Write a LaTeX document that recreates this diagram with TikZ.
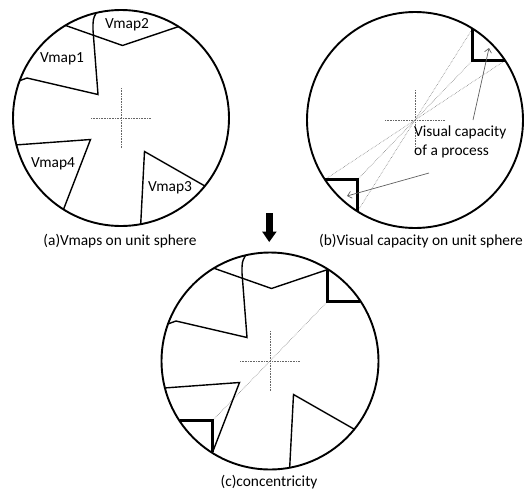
\documentclass[tikz,border=0pt]{standalone}
\usepackage{fontspec}
\setmainfont{Carlito}
\usetikzlibrary{arrows.meta,calc}
\begin{document}
\begin{tikzpicture}[x=1pt,y=-1pt,
  sphere/.style={line width=1.9pt},
  vmapline/.style={line width=1.4pt, line join=miter},
  capbox/.style={line width=3.2pt, line join=miter},
  guide/.style={densely dotted, gray, line width=0.6pt},
  cross/.style={densely dotted, gray!80!black, line width=0.6pt},
  pointer/.style={gray!75!black, line width=0.7pt, -{Straight Barb[length=4pt,width=7pt]}},
  lbl/.style={font=\fontsize{15.4}{19}\selectfont, text=black, inner sep=0pt},
]
\useasboundingbox (0,0) rectangle (524,491);

\newcommand\crosshair[1]{%
  \draw[cross] ($(#1)+(-30,0)$) -- ($(#1)+(30,0)$);
  \draw[cross] ($(#1)+(0,-30)$) -- ($(#1)+(0,30)$);}
\newcommand\drawVmaps[1]{%
  % Vmap2
  \draw[vmapline] ($(#1)+(-55.6,-92.6)$) -- ($(#1)+(1.5,-72.5)$) -- ($(#1)+(57.5,-91.4)$);
  % Vmap1
  \draw[vmapline] ($(#1)+(-24.8,-105.1)$) .. controls ($(#1)+(-28,-99)$) .. ($(#1)+(-28,-88)$)
      -- ($(#1)+(-23,-23.5)$) -- ($(#1)+(-94,-40)$) -- ($(#1)+(-101.4,-37.3)$);
  % Vmap4
  \draw[vmapline] ($(#1)+(-104.6,26.9)$) -- ($(#1)+(-30.5,21.5)$) -- ($(#1)+(-57.5,91.4)$);
  % Vmap3
  \draw[vmapline] ($(#1)+(19.7,106.2)$) -- ($(#1)+(23.5,33.5)$) -- ($(#1)+(83.9,68.0)$);}
\newcommand\drawBoxes[1]{%
  \draw[capbox] ($(#1)+(57.5,-91.4)$) -- ($(#1)+(57.5,-59.5)$) -- ($(#1)+(90.1,-59.5)$);
  \draw[capbox] ($(#1)+(-57.5,91.4)$) -- ($(#1)+(-57.5,59.5)$) -- ($(#1)+(-90.1,59.5)$);}

% centres
\coordinate (A) at (121,118);
\coordinate (B) at (415,120);
\coordinate (C) at (270,361);

% (a)
\draw[sphere] (A) circle[radius=108];
\crosshair{A}
\drawVmaps{A}
\node[lbl] (v2) at ($(A)+(6,-93)$) {Vmap2};
\node[lbl] (v1) at ($(A)+(-59,-59)$) {Vmap1};
\node[lbl] (v4) at ($(A)+(-68,46)$) {Vmap4};
\node[lbl] (v3) at ($(A)+(49,70)$) {Vmap3};
\node[lbl] (capa) at (120,241) {(a)Vmaps on unit sphere};

% (b)
\crosshair{B}
\draw[guide] ($(B)+(57.5,-91.4)$) -- ($(B)+(-57.5,91.4)$);
\draw[guide] ($(B)+(57.5,-59.5)$) -- ($(B)+(-57.5,59.5)$);
\draw[guide] ($(B)+(90.1,-59.5)$) -- ($(B)+(-90.1,59.5)$);
\draw[sphere] (B) circle[radius=108];
\drawBoxes{B}
\node[lbl, anchor=north west, align=left] (vc) at (414,126) {Visual capacity\\of a process};
\coordinate (p1s) at (473,120);
\coordinate (p1e) at (489,48);
\coordinate (p2s) at (429,173);
\coordinate (p2e) at (347,196);
\draw[pointer] (p1s) -- (p1e);
\draw[pointer] (p2s) -- (p2e);
\node[lbl] (capb) at (421,241) {(b)Visual capacity on unit sphere};

% down arrow
\fill (265.8,213) rectangle (272.6,233);
\fill (262.2,231.7) -- (276.6,231.7) -- (269.2,242) -- cycle;

% (c)
\crosshair{C}
\draw[guide] ($(C)+(57.5,-59.5)$) -- ($(C)+(-57.5,59.5)$);
\draw[sphere] (C) circle[radius=108.5];
\drawVmaps{C}
\drawBoxes{C}
\node[lbl] (capc) at (269,482) {(c)concentricity};
\end{tikzpicture}
\end{document}
